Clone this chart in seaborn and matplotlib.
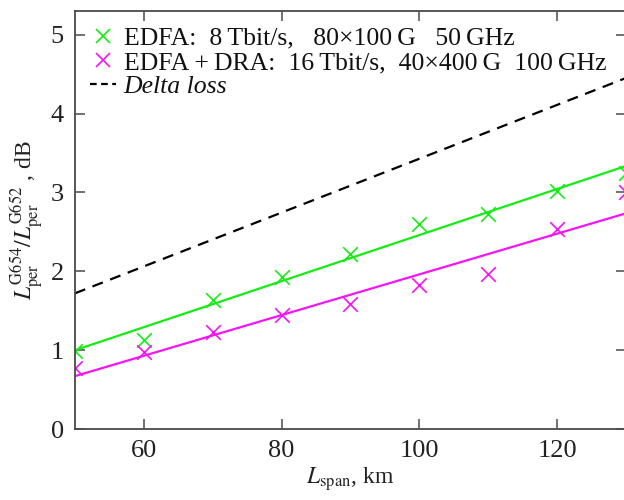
import numpy as np
import pandas as pd
import matplotlib
matplotlib.use("Agg")
import matplotlib.pyplot as plt
import seaborn as sns
from matplotlib.lines import Line2D

# ---- data ----
span_km = [50, 60, 70, 80, 90, 100, 110, 120, 130]
edfa = [0.99, 1.13, 1.64, 1.93, 2.22, 2.60, 2.73, 3.02, 3.24]
edfa_dra = [0.77, 0.97, 1.23, 1.44, 1.58, 1.83, 1.96, 2.54, 3.00]
delta_x = [50, 130]
delta_loss = [1.72, 4.45]

label_edfa = "EDFA:  8\u2009Tbit/s,   80\u00d7100\u2009G   50\u2009GHz"
label_dra = "EDFA\u2009+\u2009DRA:  16\u2009Tbit/s,  40\u00d7400\u2009G  100\u2009GHz"
label_delta = "Delta loss"
xticks = [60, 80, 100, 120]
yticks = [0, 1, 2, 3, 4, 5]

GREEN = "#14ec14"
MAGENTA = "#f514f5"
AXCOL = "#4a4a4a"

sns.set_theme(style="ticks")
plt.rcParams["font.family"] = ["Liberation Serif", "DejaVu Serif"]
plt.rcParams["mathtext.fontset"] = "stix"

df = pd.DataFrame({"x": span_km, "edfa": edfa, "dra": edfa_dra})
dl = pd.DataFrame({"x": delta_x, "y": delta_loss})

fig = plt.figure(figsize=(6.24, 5.0), dpi=100)
ax = fig.add_axes([0.120, 0.142, 0.883, 0.836])

sns.regplot(data=df, x="x", y="edfa", ax=ax, scatter=False, ci=None,
            color=GREEN, line_kws={"lw": 1.6})
sns.regplot(data=df, x="x", y="dra", ax=ax, scatter=False, ci=None,
            color=MAGENTA, line_kws={"lw": 1.6})
sns.scatterplot(data=df, x="x", y="edfa", ax=ax, marker="x", s=110,
                color=GREEN, linewidth=1.2, clip_on=True)
sns.scatterplot(data=df, x="x", y="dra", ax=ax, marker="x", s=110,
                color=MAGENTA, linewidth=1.2, clip_on=True)
sns.lineplot(data=dl, x="x", y="y", ax=ax, color="black", lw=1.6,
             dashes=False, linestyle=(0, (5, 3.5)))

ax.set_xlim(50, 130)
ax.set_ylim(0, 5.3)
ax.set_xticks(xticks)
ax.set_yticks(yticks)
ax.tick_params(direction="in", length=7, width=1.1, color=AXCOL,
               labelsize=19, top=True, right=True, pad=8,
               labelcolor="#222222")
for s in ax.spines.values():
    s.set_color(AXCOL)
    s.set_linewidth(1.3)

ax.set_xlabel(r"$L_{\mathrm{span}}$, km", fontsize=17, labelpad=2,
              color="#222222")
ax.set_ylabel(r"$L_{\mathrm{per}}^{\mathrm{G654}}/L_{\mathrm{per}}^{\mathrm{G652}}$ , dB",
              fontsize=17, labelpad=4, color="#222222")

handles = [
    Line2D([], [], ls="none", marker="x", color=GREEN, ms=10, mew=1.2),
    Line2D([], [], ls="none", marker="x", color=MAGENTA, ms=10, mew=1.2),
    Line2D([], [], color="black", lw=1.6, linestyle=(0, (3, 2))),
]
leg = ax.legend(handles, [label_edfa, label_dra, label_delta],
                loc="upper left", bbox_to_anchor=(-0.005, 1.005), frameon=False,
                fontsize=18.5, handlelength=1.0, handletextpad=0.3,
                labelspacing=0.05, borderaxespad=0.3)
leg.get_texts()[2].set_fontstyle("italic")
for t in leg.get_texts():
    t.set_color("#111111")

fig.savefig("out.png", dpi=100)
